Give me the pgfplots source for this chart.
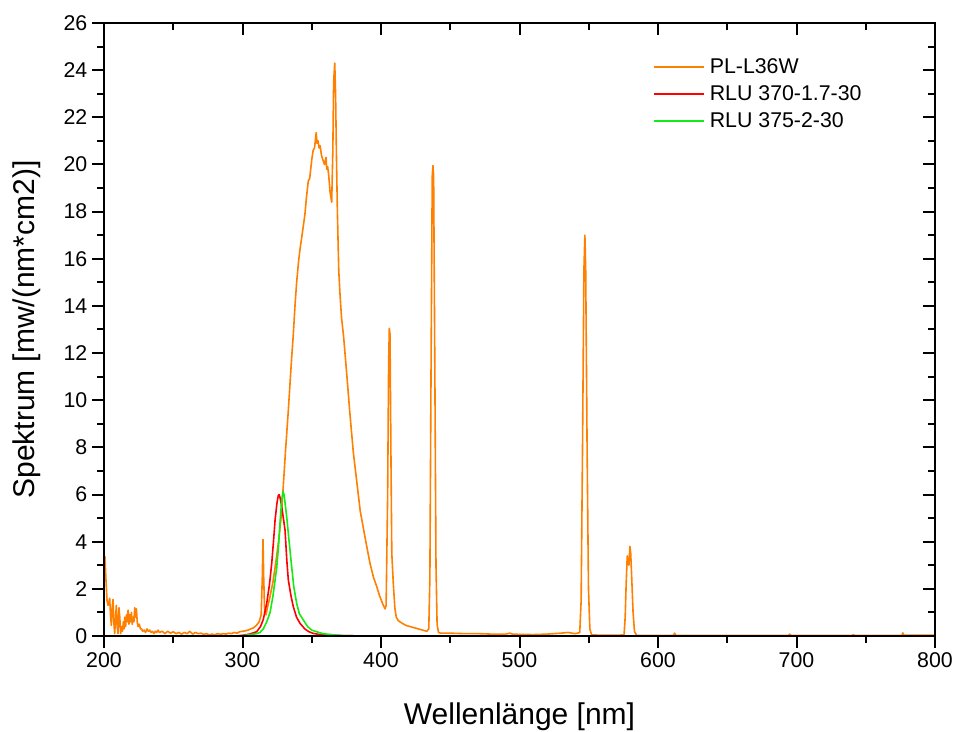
\documentclass[border=0pt]{standalone}
\usepackage{fontspec}
\setmainfont{Liberation Sans}
\usepackage{pgfplots}
\pgfplotsset{compat=1.18}
\definecolor{plorange}{RGB}{255,128,0}
\definecolor{plred}{RGB}{255,0,0}
\definecolor{plgreen}{RGB}{20,235,20}
\pgfplotsset{
  mylegline/.style={legend image code/.code={\draw[#1] (0pt,0pt) -- (37pt,0pt);}},
}
\begin{document}
\begin{tikzpicture}
\begin{axis}[
  scale only axis, width=623.25pt, height=459.75pt,
  xmin=200, xmax=800, ymin=0, ymax=26,
  xtick={200,300,...,800}, ytick={0,2,...,26},
  minor x tick num=1, minor y tick num=1,
  xtick pos=left, ytick pos=left, tick align=outside,
  major tick length=9pt, minor tick length=5pt,
  axis line style={line width=1.5pt},
  every tick/.style={line width=1.5pt, black},
  ticklabel style={font=\fontsize{16}{19}\selectfont},
  /pgf/number format/assume math mode=true,
  xlabel={Wellenlänge [nm]}, ylabel={Spektrum [mw/(nm*cm2)]},
  label style={font=\fontsize{22.5}{26}\selectfont},
  xlabel style={at={(axis description cs:0.5,-0.131)}, anchor=center},
  ylabel style={at={(axis description cs:-0.0927,0.5)}, anchor=center},
  legend style={draw=none, fill=none, at={(0.661,0.947)}, anchor=north west,
    font=\fontsize{16}{20}\selectfont, inner sep=0pt, row sep=3.6pt,
    nodes={inner xsep=4pt}},
  legend cell align=left,
  mylegline,
]
\coordinate (sw) at (rel axis cs:0,0);
\coordinate (ne) at (rel axis cs:1,1);
\addplot[plorange, line width=1.2pt, line join=round] coordinates {
(200,3.4)(200.7,3.35)(201.4,2.4)(202.2,1.5)(202.9,1.3)(203.5,1.4)(204.1,1.6)(204.7,0.9)(205.3,0.45)(205.9,1.2)(206.5,1.55)(207.1,0.6)(207.7,0.1)(208.3,0.7)(208.9,1.3)(209.5,0.4)(210.1,0.1)(210.8,1.2)(211.4,0.8)(212,0.1)(212.6,0.4)(213.3,0.2)(214,0.6)(214.5,0.3)(215,0.8)(215.6,0.4)(216.2,0.9)(216.8,0.6)(217.4,1.1)(218,0.5)(218.6,0.9)(219.2,0.6)(219.8,1.0)(220.4,0.5)(221,0.8)(221.6,0.6)(222.2,1.2)(222.8,0.8)(223.4,1.15)(224,0.6)(224.6,0.4)(225.5,0.5)(226.3,0.3)(227,0.3)(228,0.2)(229,0.25)(230,0.15)(231,0.3)(232,0.2)(233,0.25)(234,0.15)(235,0.2)(236,0.1)(237,0.2)(238,0.15)(239,0.25)(240,0.15)(242,0.2)(244,0.1)(246,0.2)(248,0.12)(250,0.18)(252,0.1)(254,0.15)(256,0.08)(258,0.15)(260,0.1)(262,0.2)(264,0.08)(266,0.15)(268,0.1)(270,0.12)(272,0.07)(274,0.1)(276,0.05)(278,0.08)(280,0.05)(282,0.1)(284,0.07)(286,0.1)(288,0.08)(290,0.12)(292,0.1)(294,0.15)(296,0.12)(298,0.18)(300,0.2)(302,0.22)(304,0.25)(306,0.3)(308,0.35)(310,0.45)(312,0.6)(313.5,0.9)(314.3,2.5)(314.8,4.1)(315.3,2.5)(316,1.0)(317,0.9)(318,1.2)(320,1.7)(322,2.3)(324,3.1)(326,4.0)(328,5.1)(329.5,6.4)(331,7.8)(333,9.5)(334.3,10.7)(335.5,11.8)(336.7,12.8)(338,14.1)(339.1,15.0)(340.5,15.9)(341.5,16.4)(343,17.0)(345.1,17.9)(346,18.5)(347.5,19.3)(348.5,19.4)(350,20.2)(351,20.6)(352,20.7)(353.2,21.35)(353.8,20.9)(354.5,21.0)(355.3,20.7)(356,20.8)(357,20.4)(358,20.2)(359.2,20.0)(360.3,20.3)(360.8,19.8)(361.5,19.9)(362.3,19.5)(363.3,18.8)(364.4,18.4)(365.2,20.5)(365.8,23.5)(366.6,24.3)(367.2,23.0)(367.8,20.5)(368.5,18.0)(369.5,15.5)(370.4,14.5)(371.5,13.5)(373,12.7)(375,11.3)(377.6,9.4)(380,7.8)(382.4,6.6)(385,5.3)(387.5,4.5)(389.7,3.8)(392,3.1)(394.5,2.5)(396.9,2.1)(399,1.7)(401,1.4)(402.9,1.15)(403.7,1.3)(404.8,6)(405.5,11.5)(406,13.05)(406.5,12.8)(407.2,7.5)(407.8,3.5)(408.9,2.2)(410,1.2)(411,0.8)(412.5,0.65)(415,0.55)(418,0.45)(421,0.4)(424,0.35)(427,0.3)(430,0.25)(433,0.2)(434.5,0.3)(435.3,2.5)(436.2,12)(437,19.5)(437.5,19.95)(438,19.5)(438.8,12)(439.7,3.0)(440.5,0.5)(441.5,0.15)(443,0.12)(450,0.12)(460,0.1)(470,0.1)(480,0.08)(490,0.08)(493,0.12)(495,0.08)(500,0.07)(510,0.06)(520,0.08)(525,0.1)(530,0.12)(535,0.15)(538,0.12)(540,0.1)(542,0.12)(543.5,0.15)(544.5,1.5)(545.5,8)(546.5,15.5)(547.2,17.0)(547.8,15.5)(548.8,8)(549.8,2)(550.8,0.3)(552,0.05)(560,0.03)(570,0.03)(575.5,0.05)(576.3,0.8)(577,2.2)(577.8,3.4)(578.3,3.2)(579,3.0)(579.7,3.8)(580.3,3.5)(581,2.5)(582,1.0)(583,0.2)(584.5,0.03)(600,0.02)(611,0.02)(612,0.12)(613,0.02)(650,0.02)(694,0.02)(695,0.08)(696,0.02)(740,0.02)(741,0.06)(742,0.02)(776,0.02)(776.8,0.13)(777.5,0.03)(800,0.03)
};
\addlegendentry{PL-L36W}
\addplot[plred, line width=1.2pt, line join=round] coordinates {
(295,0)(300,0.03)(305,0.08)(310.2,0.18)(313,0.4)(315,0.7)(317.5,1.39)(319.5,2.2)(321.1,3.08)(322.5,4.1)(323.5,4.9)(324.8,5.6)(325.8,5.95)(326.4,6.0)(327,5.9)(328,5.6)(329.5,5.0)(330.7,4.5)(332,3.2)(333.1,2.37)(335,1.7)(336.7,1.24)(339,0.8)(341.5,0.54)(345,0.3)(348,0.18)(351.1,0.11)(355,0.07)(360,0.04)(370,0.02)(380,0.01)
};
\addlegendentry{RLU 370-1.7-30}
\addplot[plgreen, line width=1.2pt, line join=round] coordinates {
(298,0)(305,0.05)(310,0.1)(312.6,0.15)(315,0.3)(317.5,0.6)(319.9,1.0)(322,1.7)(324.7,2.9)(326,3.8)(327.1,4.8)(328.2,5.7)(329.2,6.12)(330,6.0)(331.9,5.06)(333.5,4.1)(335.5,2.94)(337,2.1)(339.1,1.39)(341,0.95)(343.9,0.68)(347,0.4)(350,0.25)(353.6,0.18)(358,0.1)(365.6,0.05)(372,0.02)(380,0.01)
};
\addlegendentry{RLU 375-2-30}
\end{axis}
\begin{axis}[
  scale only axis, width=623.25pt, height=459.75pt,
  xmin=200, xmax=800, ymin=0, ymax=26,
  xtick={200,300,...,800}, ytick={0,2,...,26},
  minor x tick num=1, minor y tick num=1,
  xtick pos=right, ytick pos=right, tick align=inside,
  xticklabels={}, yticklabels={},
  major tick length=9pt, minor tick length=5pt,
  axis line style={line width=1.5pt},
  every tick/.style={line width=1.5pt, black},
]
\end{axis}
\pgfresetboundingbox
\path ([shift={(-78pt,-71.25pt)}]sw) rectangle ([shift={(17.25pt,17.25pt)}]ne);
\end{tikzpicture}
\end{document}
